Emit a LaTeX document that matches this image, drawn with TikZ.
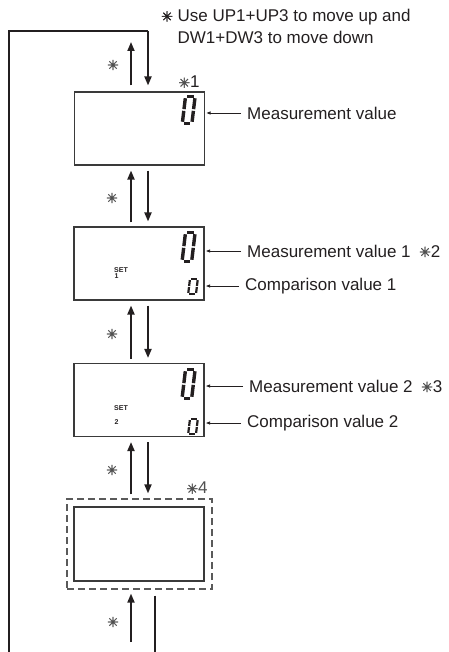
\documentclass[tikz,border=0pt]{standalone}
\usepackage{fontspec}
\setmainfont{Liberation Sans}
\newfontfamily\symfont[FakeBold=1.8]{DejaVu Sans}
\usetikzlibrary{arrows.meta, calc}
\definecolor{ink}{HTML}{231F20}
\definecolor{boxgray}{HTML}{3A3A3A}
\definecolor{dashgray}{HTML}{5A5A5A}
\definecolor{stargray}{HTML}{505050}

\newcommand{\refmark}{{\symfont ✳}}
% seven segment zero: x, y (top left), width, height, segment width
\newcommand{\lcdzero}[5]{%
  \begin{scope}[shift={(#1,#2)}, xslant=0.12, line width=#5pt, ink]
    \draw (#5*0.5+#5*0.45, #5*0.5) -- (#3-#5*0.5-#5*0.45, #5*0.5);
    \draw (#5*0.5+#5*0.45, #4-#5*0.5) -- (#3-#5*0.5-#5*0.45, #4-#5*0.5);
    \draw (#5*0.5, #5*0.5+#5*0.45) -- (#5*0.5, #4*0.5-#5*0.25);
    \draw (#5*0.5, #4*0.5+#5*0.25) -- (#5*0.5, #4-#5*0.5-#5*0.45);
    \draw (#3-#5*0.5, #5*0.5+#5*0.45) -- (#3-#5*0.5, #4*0.5-#5*0.25);
    \draw (#3-#5*0.5, #4*0.5+#5*0.25) -- (#3-#5*0.5, #4-#5*0.5-#5*0.45);
  \end{scope}}

\begin{document}
\begin{tikzpicture}[
  x=1pt, y=-1pt,
  lcd/.style={draw=boxgray, line width=1.1pt, minimum width=130pt,
    minimum height=73pt, inner sep=0pt},
  flow/.style={line width=1.8pt, ink, -{Triangle[length=9pt, width=7pt]}},
  callout/.style={line width=0.8pt, ink, -{Triangle[length=4pt, width=3pt]}},
  lbl/.style={font=\fontsize{17}{20}\selectfont, text=ink, anchor=west, inner sep=0pt},
  starnote/.style={font=\fontsize{14}{14}\selectfont, text=stargray, inner sep=0pt},
  setlbl/.style={font=\fontsize{7}{7}\selectfont\bfseries, text=ink, inner sep=0pt, anchor=west},
]
\useasboundingbox (0,0) rectangle (448,652);

% Note
\node[lbl, anchor=north west, align=left, font=\fontsize{17}{22}\selectfont] (note) at (161,9)
  {{\fontsize{14}{14}\refmark}\ Use UP1+UP3 to move up and\\\phantom{{\fontsize{14}{14}\refmark}\ }DW1+DW3 to move down};

% === Displays ===
\node[lcd] (box1) at (139.5,128.5) {};
\node[lcd] (box2) at (139,263.5) {};
\node[lcd] (box3) at (139,400) {};
\node[lcd, minimum height=74pt] (box4) at (139,544) {};
\node[draw=dashgray, dashed, dash pattern=on 7pt off 4pt, line width=1.2pt,
  minimum width=145pt, minimum height=90pt, inner sep=0pt] (dash) at (139.5,544) {};

% digits
\lcdzero{184}{95}{13}{30}{3.4}
\lcdzero{184}{231}{13}{32}{3.4}
\lcdzero{184}{368}{13}{32}{3.4}
\lcdzero{189}{278}{10}{17}{2.2}
\lcdzero{189}{418}{10}{17}{2.2}

\node[setlbl] (set1) at (114,270) {SET};
\node[setlbl] (num1) at (114.5,276.5) {1};
\node[setlbl] (set2) at (114,408) {SET};
\node[setlbl] (num2) at (114.5,422) {2};

% === Labels ===
\node[starnote, text=ink, font=\fontsize{17}{20}\selectfont] (n1) at (189,82)
  {{\fontsize{14}{14}\symfont\color{stargray}✳}1};
\node[lbl] (m1) at (247,113) {Measurement value};
\node[lbl] (m2) at (247,251) {Measurement value 1\hspace{0.5em}{\fontsize{14}{14}\symfont\color{stargray}✳}2};
\node[lbl] (c2) at (245,286) {Comparison value 1};
\node[lbl] (m3) at (249,386) {Measurement value 2\hspace{0.5em}{\fontsize{14}{14}\symfont\color{stargray}✳}3};
\node[lbl] (c3) at (247,423) {Comparison value 2};
\node[starnote, font=\fontsize{17}{20}\selectfont] (n4) at (197,488)
  {{\fontsize{14}{14}\symfont ✳}4};

\foreach \lab/\bx in {m1/box1, m2/box2, c2/box2, m3/box3, c3/box3}
  \draw[callout, shorten <=6pt, shorten >=1.5pt] (\lab.west) -- (\lab.west -| \bx.east);

% === Arrows ===
\coordinate (upx) at (131,0);
\coordinate (dnx) at (148,0);
\coordinate (loopin) at (148,31);
\coordinate (loopcorner) at (9,31);
\coordinate (loopend) at (9,656);
\coordinate (topend) at (131,42);
\coordinate (botstart) at (131,642);
\coordinate (botend) at (155,656);

\draw[line width=2.4pt, ink] (loopin) -- (loopcorner) -- (loopend);
\draw[flow, shorten >=6pt] (loopin) -- (box1.north -| dnx);
\draw[flow, shorten <=6pt] (box1.north -| upx) -- (topend);
\node[starnote] (s0) at (113,65) {\refmark};

\foreach \a/\b/\y in {box1/box2/198, box2/box3/334, box3/dash/470} {
  \draw[flow, shorten <=4pt, shorten >=5pt] (\b.north -| upx) -- (\a.south -| upx);
  \draw[flow, shorten <=5pt, shorten >=5pt] (\a.south -| dnx) -- (\b.north -| dnx);
  \node[starnote] at (112,\y) {\refmark};
}

\draw[flow, shorten >=4pt] (botstart) -- (dash.south -| upx);
\draw[line width=1.8pt, ink, shorten <=6pt] (dash.south -| botend) -- (botend);
\node[starnote] (s4) at (113,622) {\refmark};

\end{tikzpicture}
\end{document}
